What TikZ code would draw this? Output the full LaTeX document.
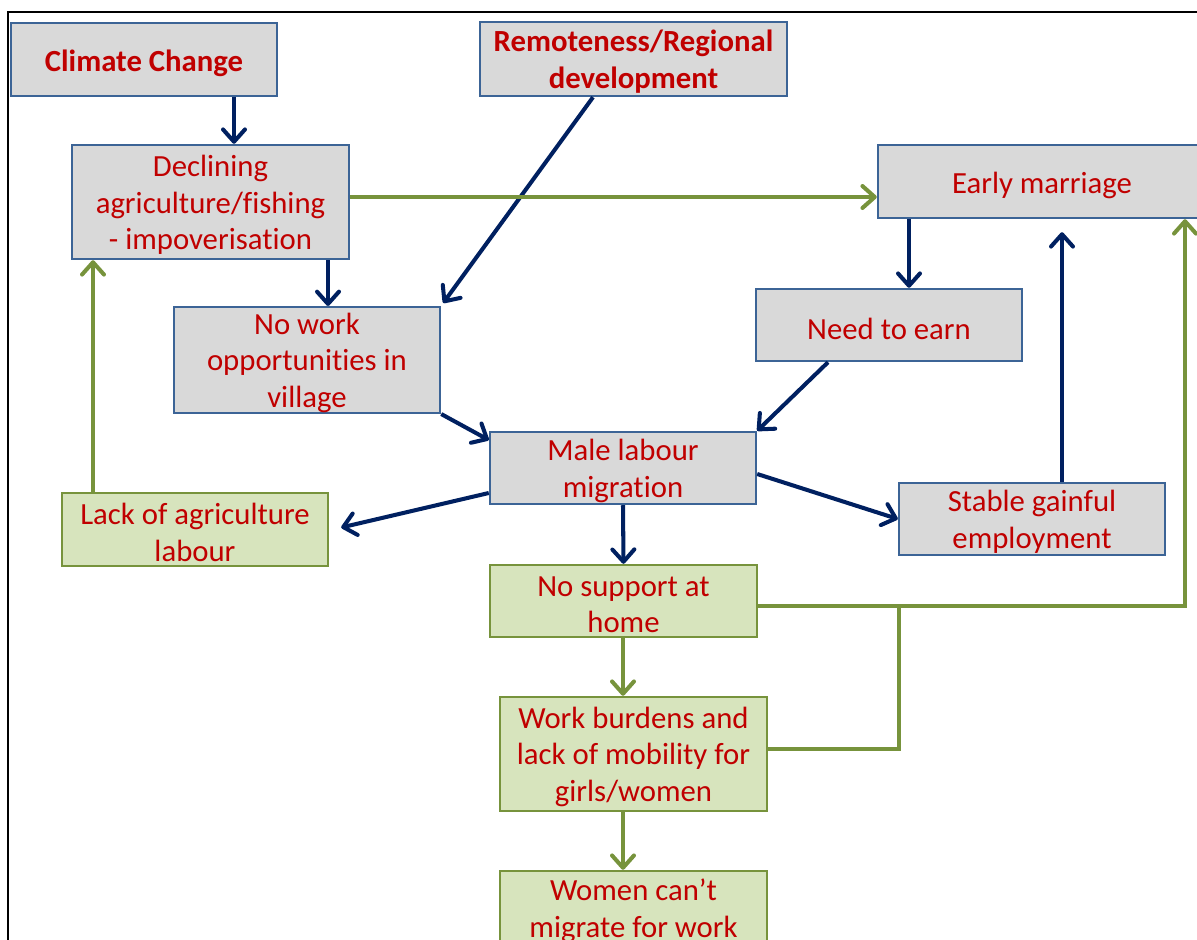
\documentclass[tikz,border=0pt]{standalone}
\usepackage{fontspec}
\setmainfont{Carlito}[Ligatures=NoCommon]
\usetikzlibrary{arrows.meta,calc}
\definecolor{navy}{RGB}{0,32,96}
\definecolor{olivegreen}{RGB}{119,147,60}
\definecolor{boxblue}{RGB}{60,100,150}
\definecolor{boxgray}{RGB}{217,217,217}
\definecolor{boxgreen}{RGB}{215,228,189}
\definecolor{txtred}{RGB}{192,0,0}
\newcommand\toprule{\rule{0pt}{15.5pt}}
\tikzset{
  sz/.style 2 args={minimum width=#1*0.02cm, minimum height=#2*0.02cm},
  base/.style={rectangle, inner sep=0pt, align=center, text=txtred, line width=1.4pt,
    font=\fontsize{17.5}{20.8}\selectfont,
    execute at begin node={\rule{0pt}{16.8pt}}},
  gbox/.style={base, draw=boxblue, fill=boxgray},
  grbox/.style={base, draw=olivegreen, fill=boxgreen},
  tip/.style={-{Straight Barb[length=7pt,width=12.5pt,line cap=round,line join=round]}},
  navyarrow/.style={tip, draw=navy, line width=2.3pt},
  greenarrow/.style={tip, draw=olivegreen, line width=2.3pt},
  greenline/.style={draw=olivegreen, line width=2.3pt},
}
\begin{document}
\begin{tikzpicture}[x=0.02cm, y=-0.02cm]
\useasboundingbox (0,0) rectangle (1197,940);
\clip (0,0) rectangle (1197,940);
\draw[black, line width=1.3pt] (8,12) rectangle (1230,980);

\node[gbox, sz={266}{73}] (cc) at (144,59.5) {\textbf{Climate Change}};
\node[gbox, sz={307}{74}] (rem) at (633.5,59) {\toprule\textbf{Remoteness/Regional}\\\textbf{development}};
\node[gbox, sz={277}{114}] (dec) at (210.5,202) {\toprule Declining\\agriculture/fishing\\- impoverisation};
\node[gbox, sz={328}{73}] (em) at (1042,181.5) {Early marriage};
\node[gbox, sz={266}{102}] (nw) at (307,360) {\toprule No work\\opportunities in\\village};
\node[gbox, sz={266}{72}] (ne) at (889,325) {Need to earn};
\node[gbox, sz={266}{72}] (ml) at (623,468) {\toprule Male labour\\migration};
\node[gbox, sz={266}{72}] (st) at (1032,519) {\toprule Stable gainful\\employment};
\node[grbox, sz={266}{73}] (lack) at (195,529.5) {\toprule Lack of agriculture\\labour};
\node[grbox, sz={267}{72}] (ns) at (623.5,601) {\toprule No support at\\home};
\node[grbox, sz={267}{114}] (wb) at (633.5,754) {\toprule Work burdens and\\lack of mobility for\\girls/women};
\node[grbox, sz={267}{74}] (wc) at (633.5,908) {\toprule Women can’t\\migrate for work};

\coordinate (j) at (899,606);

% navy arrows
\draw[navyarrow] (234,0 |- cc.south) -- (234,0 |- dec.north);
\draw[navyarrow] (593,0 |- rem.south) -- ($(nw.north east)+(2,-3)$);
\draw[navyarrow] (328,0 |- dec.south) -- (328,0 |- nw.north);
\draw[navyarrow] (909,0 |- em.south) -- (909,0 |- ne.north);
\draw[navyarrow] (828,0 |- ne.south) -- (ml.north east);
\draw[navyarrow] (nw.south east) -- (ml.west |- 0,440);
\draw[navyarrow] (ml.west |- 0,493) -- ($(lack.east)+(12,-2)$);
\draw[navyarrow] (ml.east |- 0,474) -- (st.west);
\draw[navyarrow] (1062,0 |- st.north) -- ($(1062,0 |- em.south)+(0,13)$);
\draw[navyarrow] (ml.south) -- (ns.north);

% green arrows and lines
\draw[greenarrow] (dec.east |- 0,197) -- (em.west |- 0,197);
\draw[greenarrow] (93,0 |- lack.north) -- (93,0 |- dec.south);
\draw[greenarrow, line join=miter] (ns.east |- 0,606) -| (1185,0 |- em.south);
\draw[greenline, line join=miter] (wb.east |- 0,749) -| (j);
\draw[greenarrow] (623,0 |- ns.south) -- (623,0 |- wb.north);
\draw[greenarrow] (623,0 |- wb.south) -- (623,0 |- wc.north);
\end{tikzpicture}
\end{document}
